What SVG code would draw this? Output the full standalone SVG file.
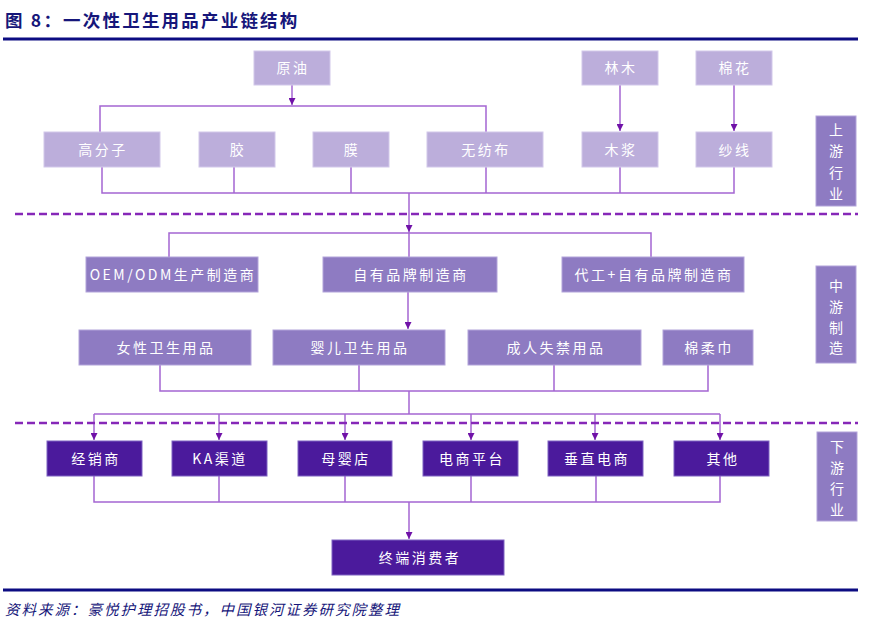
<svg xmlns="http://www.w3.org/2000/svg" width="870" height="623" viewBox="0 0 870 623">
<defs>
<style>
.t{font-family:"Noto Sans CJK SC","Liberation Sans",sans-serif;}
.title{font-size:17.5px;font-weight:bold;fill:#16167a;letter-spacing:2.2px;}
.src{font-size:14.5px;font-style:italic;fill:#16167a;letter-spacing:2px;}
.lt{fill:#bcaedb;stroke:#d2c8ea;stroke-width:1;}
.md{fill:#8e7bc2;stroke:#b2a4da;stroke-width:1;}
.dk{fill:#4b1a9c;stroke:#7e62c2;stroke-width:1;}
.lab{fill:#8e7bc2;stroke:#b2a4da;stroke-width:1;}
.nt{font-size:14px;fill:#ffffff;text-anchor:middle;letter-spacing:2.5px;}
.vt{font-size:14px;fill:#ffffff;text-anchor:middle;}
.c{fill:none;stroke:#a466d2;stroke-width:1.5;}
.dash{fill:none;stroke:#8628b8;stroke-width:2.5;stroke-dasharray:8 4;}
.rule{stroke:#0c0c82;stroke-width:3;}
</style>
<marker id="ah" markerUnits="userSpaceOnUse" markerWidth="7" markerHeight="7" refX="7" refY="3.5" orient="auto">
<path d="M0,0 L7,3.5 L0,7 z" fill="#7012a8"/>
</marker>
</defs>
<text class="t title" x="5" y="27">图 8：一次性卫生用品产业链结构</text>
<line class="rule" x1="3" y1="39" x2="858" y2="39"/>

<g id="connectors">
<path class="c" d="M292,85 V105" marker-end="url(#ah)"/>
<path class="c" d="M100,132 V106 H486 V132"/>
<path class="c" d="M620,85 V131" marker-end="url(#ah)"/>
<path class="c" d="M734,85 V131" marker-end="url(#ah)"/>
<path class="c" d="M102,167 V193 H734 V167"/>
<path class="c" d="M234,167 V193 M351,167 V193 M486,167 V193 M620,167 V193"/>
<path class="c" d="M409,193 V232" marker-end="url(#ah)"/>
<path class="c" d="M409,232 V257"/>
<path class="c" d="M169,257 V233 H651 V257"/>
<path class="c" d="M408,292 V329" marker-end="url(#ah)"/>
<path class="c" d="M160,365 V391 H708 V365"/>
<path class="c" d="M359,365 V391 M554,365 V391"/>
<path class="c" d="M409,391 V414"/>
<path class="c" d="M94,414 H720"/>
<path class="c" d="M94,414 V440" marker-end="url(#ah)"/>
<path class="c" d="M219,414 V440" marker-end="url(#ah)"/>
<path class="c" d="M345,414 V440" marker-end="url(#ah)"/>
<path class="c" d="M471,414 V440" marker-end="url(#ah)"/>
<path class="c" d="M595,414 V440" marker-end="url(#ah)"/>
<path class="c" d="M720,414 V440" marker-end="url(#ah)"/>
<path class="c" d="M94,476 V502 H720 V476"/>
<path class="c" d="M219,476 V502 M345,476 V502 M471,476 V502 M596,476 V502"/>
<path class="c" d="M409,502 V539" marker-end="url(#ah)"/>
</g>

<line class="dash" x1="15" y1="214" x2="858" y2="214"/>
<line class="dash" x1="15" y1="423" x2="858" y2="423"/>

<g id="n-yuanyou"><rect class="lt" x="254" y="51" width="76" height="34"/><text class="t nt" x="293" y="73">原油</text></g>
<g id="n-linmu"><rect class="lt" x="582" y="51" width="76" height="34"/><text class="t nt" x="621" y="73">林木</text></g>
<g id="n-mianhua"><rect class="lt" x="696" y="51" width="76" height="34"/><text class="t nt" x="735" y="73">棉花</text></g>

<g id="n-gaofenzi"><rect class="lt" x="44" y="132" width="116" height="35"/><text class="t nt" x="103" y="155">高分子</text></g>
<g id="n-jiao"><rect class="lt" x="199" y="132" width="76" height="35"/><text class="t nt" x="238" y="155">胶</text></g>
<g id="n-mo"><rect class="lt" x="313" y="132" width="76" height="35"/><text class="t nt" x="352" y="155">膜</text></g>
<g id="n-wufangbu"><rect class="lt" x="427" y="132" width="116" height="35"/><text class="t nt" x="486" y="155">无纺布</text></g>
<g id="n-mujiang"><rect class="lt" x="582" y="132" width="76" height="35"/><text class="t nt" x="621" y="155">木浆</text></g>
<g id="n-shaxian"><rect class="lt" x="696" y="132" width="76" height="35"/><text class="t nt" x="735" y="155">纱线</text></g>

<g id="lab-up"><rect class="lab" x="816" y="116" width="40" height="90"/>
<text class="t vt" x="836" y="135">上</text><text class="t vt" x="836" y="156">游</text><text class="t vt" x="836" y="178">行</text><text class="t vt" x="836" y="199">业</text></g>

<g id="n-oem"><rect class="md" x="86" y="257" width="172" height="35"/><text class="t nt" x="173" y="280" letter-spacing="1">OEM/ODM生产制造商</text></g>
<g id="n-ziyou"><rect class="md" x="323" y="257" width="174" height="35"/><text class="t nt" x="411" y="280">自有品牌制造商</text></g>
<g id="n-daigong"><rect class="md" x="562" y="257" width="182" height="35"/><text class="t nt" x="654" y="280" letter-spacing="1.5">代工+自有品牌制造商</text></g>

<g id="n-nvxing"><rect class="md" x="79" y="330" width="172" height="35"/><text class="t nt" x="166" y="353">女性卫生用品</text></g>
<g id="n-yinger"><rect class="md" x="273" y="330" width="172" height="35"/><text class="t nt" x="360" y="353">婴儿卫生用品</text></g>
<g id="n-chengren"><rect class="md" x="468" y="330" width="173" height="35"/><text class="t nt" x="556" y="353">成人失禁用品</text></g>
<g id="n-mianrou"><rect class="md" x="663" y="330" width="90" height="35"/><text class="t nt" x="709" y="353">棉柔巾</text></g>

<g id="lab-mid"><rect class="lab" x="816" y="266" width="40" height="97"/>
<text class="t vt" x="836" y="291">中</text><text class="t vt" x="836" y="312">游</text><text class="t vt" x="836" y="333">制</text><text class="t vt" x="836" y="353">造</text></g>

<g id="n-jingxiao"><rect class="dk" x="47" y="441" width="95" height="35"/><text class="t nt" x="96" y="464">经销商</text></g>
<g id="n-ka"><rect class="dk" x="172" y="441" width="95" height="35"/><text class="t nt" x="220" y="464" letter-spacing="1">KA渠道</text></g>
<g id="n-muying"><rect class="dk" x="298" y="441" width="94" height="35"/><text class="t nt" x="346" y="464">母婴店</text></g>
<g id="n-dianshang"><rect class="dk" x="423" y="441" width="95" height="35"/><text class="t nt" x="472" y="464">电商平台</text></g>
<g id="n-chuizhi"><rect class="dk" x="548" y="441" width="95" height="35"/><text class="t nt" x="597" y="464">垂直电商</text></g>
<g id="n-qita"><rect class="dk" x="674" y="441" width="95" height="35"/><text class="t nt" x="723" y="464">其他</text></g>

<g id="lab-down"><rect class="lab" x="817" y="432" width="40" height="89"/>
<text class="t vt" x="837" y="452">下</text><text class="t vt" x="837" y="473">游</text><text class="t vt" x="837" y="494">行</text><text class="t vt" x="837" y="515">业</text></g>

<g id="n-zhongduan"><rect class="dk" x="332" y="540" width="172" height="35"/><text class="t nt" x="420" y="563" letter-spacing="3">终端消费者</text></g>

<line class="rule" x1="3" y1="590" x2="858" y2="590"/>
<text class="t src" x="5" y="615">资料来源：豪悦护理招股书，中国银河证券研究院整理</text>
</svg>
